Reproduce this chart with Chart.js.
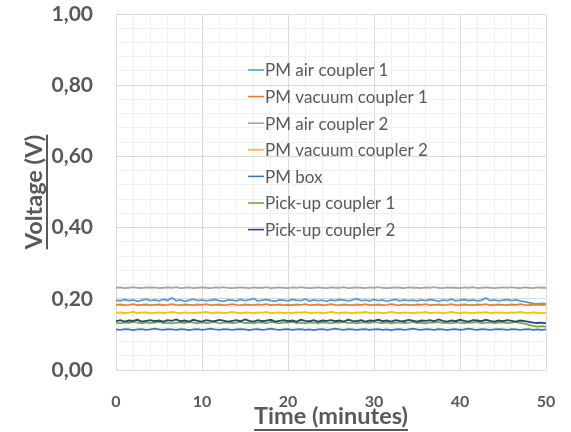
<!DOCTYPE html>
<html>
<head>
<meta charset="utf-8">
<script src="https://cdn.jsdelivr.net/npm/chart.js@4/dist/chart.umd.min.js"></script>
<style>
html,body{margin:0;padding:0;background:#fff;}
#wrap{width:571px;height:432px;}
</style>
</head>
<body>
<div id="wrap"><canvas id="c" width="571" height="432"></canvas></div>
<script>
// ---- data ----
const times = [0,0.5,1,1.5,2,2.5,3,3.5,4,4.5,5,5.5,6,6.5,7,7.5,8,8.5,9,9.5,
10,10.5,11,11.5,12,12.5,13,13.5,14,14.5,15,15.5,16,16.5,17,17.5,18,18.5,19,19.5,
20,20.5,21,21.5,22,22.5,23,23.5,24,24.5,25,25.5,26,26.5,27,27.5,28,28.5,29,29.5,
30,30.5,31,31.5,32,32.5,33,33.5,34,34.5,35,35.5,36,36.5,37,37.5,38,38.5,39,39.5,
40,40.5,41,41.5,42,42.5,43,43.5,44,44.5,45,45.5,46,46.5,47,47.5,48,48.5,49,49.5,50];

const seriesNames = ["PM air coupler 1","PM vacuum coupler 1","PM air coupler 2","PM vacuum coupler 2","PM box","Pick-up coupler 1","Pick-up coupler 2"];

const pmAirCoupler1 = [0.196,0.194,0.198,0.195,0.197,0.193,0.196,0.199,0.195,0.197,
0.194,0.198,0.196,0.202,0.195,0.197,0.193,0.196,0.199,0.195,
0.197,0.194,0.196,0.198,0.195,0.193,0.197,0.196,0.194,0.198,
0.195,0.197,0.201,0.194,0.196,0.198,0.195,0.193,0.197,0.196,
0.194,0.198,0.196,0.195,0.199,0.194,0.197,0.195,0.196,0.193,
0.197,0.195,0.198,0.196,0.194,0.197,0.200,0.195,0.196,0.194,
0.198,0.195,0.197,0.193,0.196,0.198,0.194,0.197,0.195,0.196,
0.194,0.197,0.195,0.198,0.196,0.193,0.197,0.195,0.199,0.194,
0.196,0.198,0.195,0.197,0.194,0.196,0.202,0.195,0.197,0.194,
0.196,0.198,0.195,0.197,0.194,0.192,0.189,0.187,0.186,0.187,0.186];

const pmVacuumCoupler1 = [0.183,0.184,0.182,0.183,0.185,0.182,0.183,0.184,0.182,0.183,
0.184,0.182,0.183,0.185,0.183,0.182,0.184,0.183,0.182,0.184,
0.183,0.185,0.182,0.183,0.184,0.182,0.183,0.185,0.183,0.182,
0.184,0.183,0.182,0.184,0.183,0.185,0.182,0.183,0.184,0.182,
0.183,0.182,0.184,0.183,0.185,0.182,0.183,0.184,0.182,0.183,
0.185,0.183,0.182,0.184,0.183,0.182,0.184,0.183,0.185,0.182,
0.183,0.184,0.182,0.183,0.185,0.183,0.182,0.184,0.183,0.182,
0.184,0.183,0.185,0.182,0.183,0.184,0.182,0.183,0.185,0.183,
0.182,0.184,0.183,0.182,0.184,0.183,0.185,0.182,0.183,0.184,
0.183,0.182,0.184,0.183,0.185,0.183,0.182,0.184,0.183,0.184,0.183];

const pmAirCoupler2 = [0.231,0.232,0.230,0.231,0.233,0.231,0.230,0.232,0.231,0.232,
0.230,0.231,0.232,0.231,0.233,0.230,0.231,0.232,0.230,0.231,
0.232,0.231,0.230,0.232,0.231,0.233,0.231,0.230,0.231,0.232,
0.231,0.230,0.232,0.231,0.231,0.233,0.230,0.231,0.232,0.231,
0.230,0.232,0.231,0.233,0.231,0.230,0.231,0.232,0.231,0.230,
0.232,0.231,0.231,0.233,0.230,0.231,0.232,0.231,0.230,0.232,
0.231,0.233,0.231,0.230,0.231,0.232,0.231,0.230,0.232,0.231,
0.231,0.230,0.232,0.231,0.233,0.231,0.230,0.232,0.231,0.231,
0.230,0.232,0.231,0.233,0.230,0.231,0.232,0.231,0.230,0.231,
0.232,0.231,0.233,0.231,0.230,0.232,0.231,0.230,0.232,0.231,0.231];

const pmVacuumCoupler2 = [0.161,0.162,0.160,0.161,0.163,0.160,0.161,0.162,0.160,0.161,
0.162,0.160,0.161,0.163,0.161,0.160,0.162,0.161,0.160,0.162,
0.161,0.163,0.160,0.161,0.162,0.160,0.161,0.163,0.161,0.160,
0.162,0.161,0.160,0.162,0.161,0.163,0.160,0.161,0.162,0.160,
0.161,0.160,0.162,0.161,0.163,0.160,0.161,0.162,0.160,0.161,
0.163,0.161,0.160,0.162,0.161,0.160,0.162,0.161,0.163,0.160,
0.161,0.162,0.160,0.161,0.163,0.161,0.160,0.162,0.161,0.160,
0.162,0.161,0.163,0.160,0.161,0.162,0.160,0.161,0.163,0.161,
0.160,0.162,0.161,0.160,0.162,0.161,0.163,0.160,0.161,0.162,
0.161,0.160,0.162,0.161,0.163,0.161,0.160,0.162,0.161,0.160,0.161];

const pmBox = [0.114,0.113,0.115,0.114,0.112,0.114,0.115,0.113,0.114,0.116,
0.114,0.113,0.115,0.114,0.113,0.115,0.114,0.112,0.114,0.115,
0.113,0.114,0.116,0.114,0.113,0.115,0.114,0.113,0.114,0.115,
0.114,0.112,0.114,0.115,0.113,0.114,0.116,0.114,0.113,0.114,
0.115,0.113,0.114,0.115,0.113,0.114,0.112,0.114,0.115,0.113,
0.114,0.116,0.114,0.113,0.115,0.114,0.113,0.114,0.115,0.113,
0.114,0.115,0.113,0.114,0.112,0.114,0.115,0.113,0.114,0.116,
0.114,0.113,0.115,0.114,0.113,0.115,0.114,0.112,0.114,0.115,
0.113,0.114,0.116,0.114,0.113,0.115,0.114,0.113,0.114,0.115,
0.114,0.113,0.115,0.114,0.113,0.114,0.115,0.113,0.114,0.113,0.114];

const pickupCoupler1 = [0.133,0.131,0.134,0.132,0.135,0.133,0.131,0.134,0.132,0.133,
0.135,0.132,0.133,0.131,0.134,0.133,0.132,0.135,0.133,0.131,
0.134,0.132,0.133,0.135,0.131,0.133,0.134,0.132,0.133,0.135,
0.132,0.133,0.131,0.134,0.133,0.132,0.135,0.133,0.131,0.134,
0.133,0.135,0.132,0.133,0.131,0.134,0.133,0.132,0.134,0.133,
0.131,0.134,0.133,0.135,0.132,0.133,0.131,0.134,0.133,0.132,
0.135,0.133,0.132,0.134,0.131,0.133,0.134,0.132,0.133,0.135,
0.132,0.133,0.131,0.134,0.133,0.135,0.132,0.133,0.131,0.134,
0.133,0.132,0.134,0.133,0.135,0.131,0.133,0.134,0.132,0.133,
0.134,0.132,0.133,0.135,0.132,0.130,0.127,0.124,0.122,0.123,0.122];

const pickupCoupler2 = [0.137,0.140,0.136,0.139,0.138,0.141,0.136,0.138,0.140,0.137,
0.139,0.136,0.140,0.138,0.142,0.137,0.139,0.136,0.141,0.138,
0.136,0.140,0.138,0.137,0.141,0.139,0.136,0.138,0.140,0.137,
0.142,0.138,0.136,0.140,0.137,0.139,0.141,0.136,0.138,0.140,
0.137,0.139,0.136,0.141,0.138,0.137,0.140,0.136,0.139,0.138,
0.140,0.137,0.139,0.136,0.141,0.138,0.137,0.140,0.136,0.139,
0.138,0.141,0.137,0.139,0.136,0.140,0.138,0.137,0.141,0.139,
0.136,0.139,0.138,0.140,0.137,0.142,0.138,0.136,0.139,0.137,
0.141,0.138,0.136,0.140,0.139,0.137,0.141,0.138,0.136,0.139,
0.137,0.140,0.138,0.136,0.139,0.137,0.135,0.133,0.132,0.133,0.131];

const yTickLabels = ["0,00","0,20","0,40","0,60","0,80","1,00"];
const xTickLabels = ["0","10","20","30","40","50"];
const yTitle = "Voltage (V)";
const xTitle = "Time (minutes)";

// ---- styling ----
const colors = ["#5B9BD5","#ED7D31","#A5A5A5","#FFC000","#4472C4","#70AD47","#264478"];
const allSeries = [pmAirCoupler1,pmVacuumCoupler1,pmAirCoupler2,pmVacuumCoupler2,pmBox,pickupCoupler1,pickupCoupler2];
const TXT = "#595959";
const FONT = "Lato, 'Open Sans', sans-serif";

const datasets = allSeries.map((vals,i)=>({
  label: seriesNames[i],
  data: vals.map((v,j)=>({x:times[j],y:v})),
  borderColor: colors[i],
  backgroundColor: colors[i],
  borderWidth: 1.8,
  pointRadius: 0,
  tension: 0,
  fill: false,
  order: allSeries.length - 1 - i
}));

function isMajor(v, step){ const r = v/step; return Math.abs(r-Math.round(r)) < 1e-6; }

const overlay = {
  id:'overlay',
  afterDraw(chart){
    const ctx = chart.ctx;
    const ca = chart.chartArea;
    ctx.save();
    // legend
    ctx.font = "17px " + FONT;
    ctx.textBaseline = "middle";
    ctx.textAlign = "left";
    const lx = 248, ly = 70, dy = 26.6;
    seriesNames.forEach((n,i)=>{
      const y = ly + i*dy;
      ctx.strokeStyle = colors[i];
      ctx.lineWidth = 1.6;
      ctx.beginPath(); ctx.moveTo(lx, y); ctx.lineTo(lx+16, y); ctx.stroke();
      ctx.fillStyle = TXT;
      ctx.fillText(n, lx+17, y+1);
    });
    // x title
    ctx.font = "bold 23.5px " + FONT;
    ctx.textAlign = "center";
    ctx.textBaseline = "alphabetic";
    ctx.fillStyle = TXT;
    const cx = (ca.left+ca.right)/2;
    const xb = 424;
    ctx.fillText(xTitle, cx, xb);
    let w = ctx.measureText(xTitle).width;
    ctx.fillRect(cx - w/2, xb + 5, w, 2);
    // y title
    const cy = (ca.top+ca.bottom)/2;
    ctx.translate(42, cy);
    ctx.rotate(-Math.PI/2);
    ctx.fillText(yTitle, 0, 0);
    w = ctx.measureText(yTitle).width;
    ctx.fillRect(-w/2, 4, w, 2);
    ctx.restore();
  }
};

new Chart(document.getElementById('c'), {
  type: 'line',
  data: { datasets },
  plugins: [overlay],
  options: {
    responsive: false,
    animation: false,
    layout: { padding: { top: 14, right: 25, left: 0, bottom: 0 } },
    plugins: { legend: { display: false }, tooltip: { enabled: false } },
    scales: {
      x: {
        type: 'linear', min: 0, max: 50,
        afterFit(s){ s.height = 62; s.paddingLeft = 0; s.paddingRight = 0; },
        border: { display: false },
        grid: {
          drawTicks: false,
          color: c => isMajor(c.tick.value,10) ? "#d9d9d9" : "#f0f0f0",
          lineWidth: 1
        },
        ticks: {
          stepSize: 2, autoSkip: false, maxRotation: 0, padding: 22,
          color: TXT, font: { family: FONT, size: 16, weight: 'bold' },
          callback: v => isMajor(v,10) ? xTickLabels[Math.round(v/10)] : ""
        }
      },
      y: {
        type: 'linear', min: 0, max: 1,
        afterFit(s){ s.width = 116; s.paddingTop = 0; s.paddingBottom = 0; },
        border: { display: false },
        grid: {
          drawTicks: false,
          color: c => isMajor(c.tick.value,0.2) ? "#d9d9d9" : "#f0f0f0",
          lineWidth: 1
        },
        ticks: {
          stepSize: 0.04, autoSkip: false, padding: 23,
          color: TXT, font: { family: FONT, size: 21, weight: 'bold' },
          callback: v => isMajor(v,0.2) ? yTickLabels[Math.round(v/0.2)] : ""
        }
      }
    }
  }
});
</script>
</body>
</html>
